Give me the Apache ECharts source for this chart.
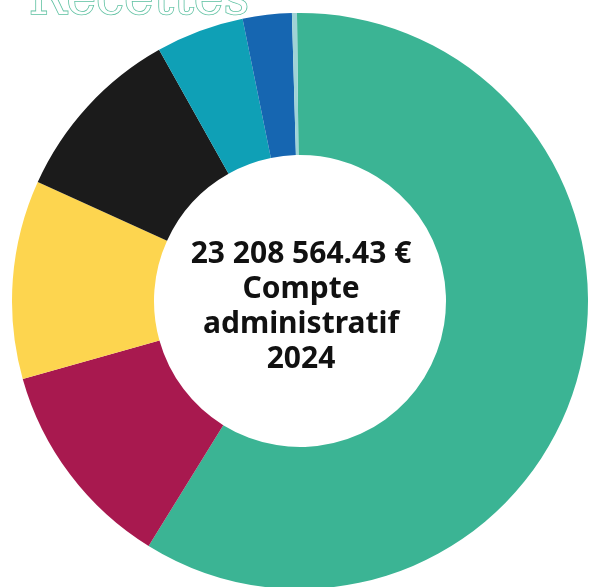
<!DOCTYPE html>
<html>
<head>
<meta charset="utf-8">
<script src="https://cdn.jsdelivr.net/npm/echarts@6/dist/echarts.min.js"></script>
<style>
html,body{margin:0;padding:0;background:#fff;}
#chart{width:592px;height:587px;}
</style>
</head>
<body>
<div id="chart"></div>
<script>
// Slices in clockwise order from 12 o'clock (share of total, %)
const categories = ['Poste 1', 'Poste 2', 'Poste 3', 'Poste 4', 'Poste 5', 'Poste 6', 'Poste 7'];
const shares = [58.97, 11.83, 11.14, 10.08, 4.94, 2.75, 0.28];
const colors = ['#3bb494', '#a8194f', '#fdd54f', '#1b1b1b', '#0fa0b6', '#1666b1', '#9fd3d6'];
const titleText = 'Recettes';
const centerLines = ['23 208 564.43 €', 'Compte', 'administratif', '2024'];

const chart = echarts.init(document.getElementById('chart'), null, {renderer: 'canvas'});
chart.setOption({
  backgroundColor: '#ffffff',
  animation: false,
  graphic: [
    {
      type: 'text',
      left: 28,
      top: -25,
      style: {
        text: titleText,
        font: '50px "DejaVu Serif"',
        fill: '#ffffff',
        stroke: '#5cc0a0',
        lineWidth: 1.6
      },
      z: 10
    },
    {
      type: 'text',
      x: 301,
      y: 307,
      style: {
        text: centerLines.join('\n'),
        font: 'bold 30px "Noto Sans"',
        fill: '#111111',
        align: 'center',
        verticalAlign: 'middle',
        lineHeight: 35
      },
      z: 10
    }
  ],
  series: [{
    type: 'pie',
    center: [300, 301],
    radius: [146, 288],
    startAngle: 90.6,
    clockwise: true,
    label: {show: false},
    labelLine: {show: false},
    emphasis: {disabled: true},
    itemStyle: {borderWidth: 0},
    data: categories.map((c, i) => ({name: c, value: shares[i], itemStyle: {color: colors[i]}}))
  }]
});
</script>
</body>
</html>
